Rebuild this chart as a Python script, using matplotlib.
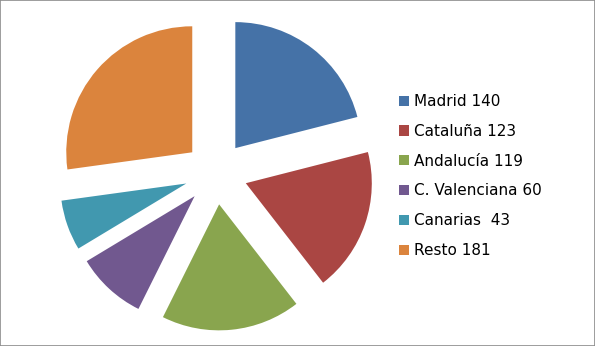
import matplotlib.pyplot as plt
from matplotlib.patches import Rectangle

# Datos
regiones = ['Madrid', 'Cataluña', 'Andalucía', 'C. Valenciana', 'Canarias ', 'Resto']
valores = [140, 123, 119, 60, 43, 181]
colores = ['#4572A7', '#AA4643', '#89A54E', '#71588F', '#4198AF', '#DB843D']

W, H = 595, 346
fig = plt.figure(figsize=(W / 100, H / 100), dpi=100)
ax = fig.add_axes([0, 0, 1, 1])

wedges, _ = ax.pie(valores, colors=colores, startangle=90, counterclock=False,
                   explode=[0.25] * len(valores), radius=1,
                   wedgeprops=dict(edgecolor='none'))

# pie centre and radius in pixels (limits set after pie, which resets them)
cx, cy, r = 216, 173, 126
ax.set_xlim(-cx / r, (W - cx) / r)
ax.set_ylim(-(H - cy) / r, cy / r)
ax.set_aspect('equal')
ax.axis('off')

etiquetas = [f'{n} {v}' for n, v in zip(regiones, valores)]
ax.legend(wedges, etiquetas, loc='upper left', bbox_to_anchor=(399 / W, 1 - 94 / H),
          frameon=False, fontsize=11, handlelength=0.65, handleheight=0.65,
          handletextpad=0.35, labelspacing=0.97, borderpad=0, borderaxespad=0)

fig.patches.append(Rectangle((0, 0), 1, 1, transform=fig.transFigure, fill=False,
                             edgecolor='#8c8c8c', linewidth=1.2))

fig.savefig('out.png', dpi=100)
